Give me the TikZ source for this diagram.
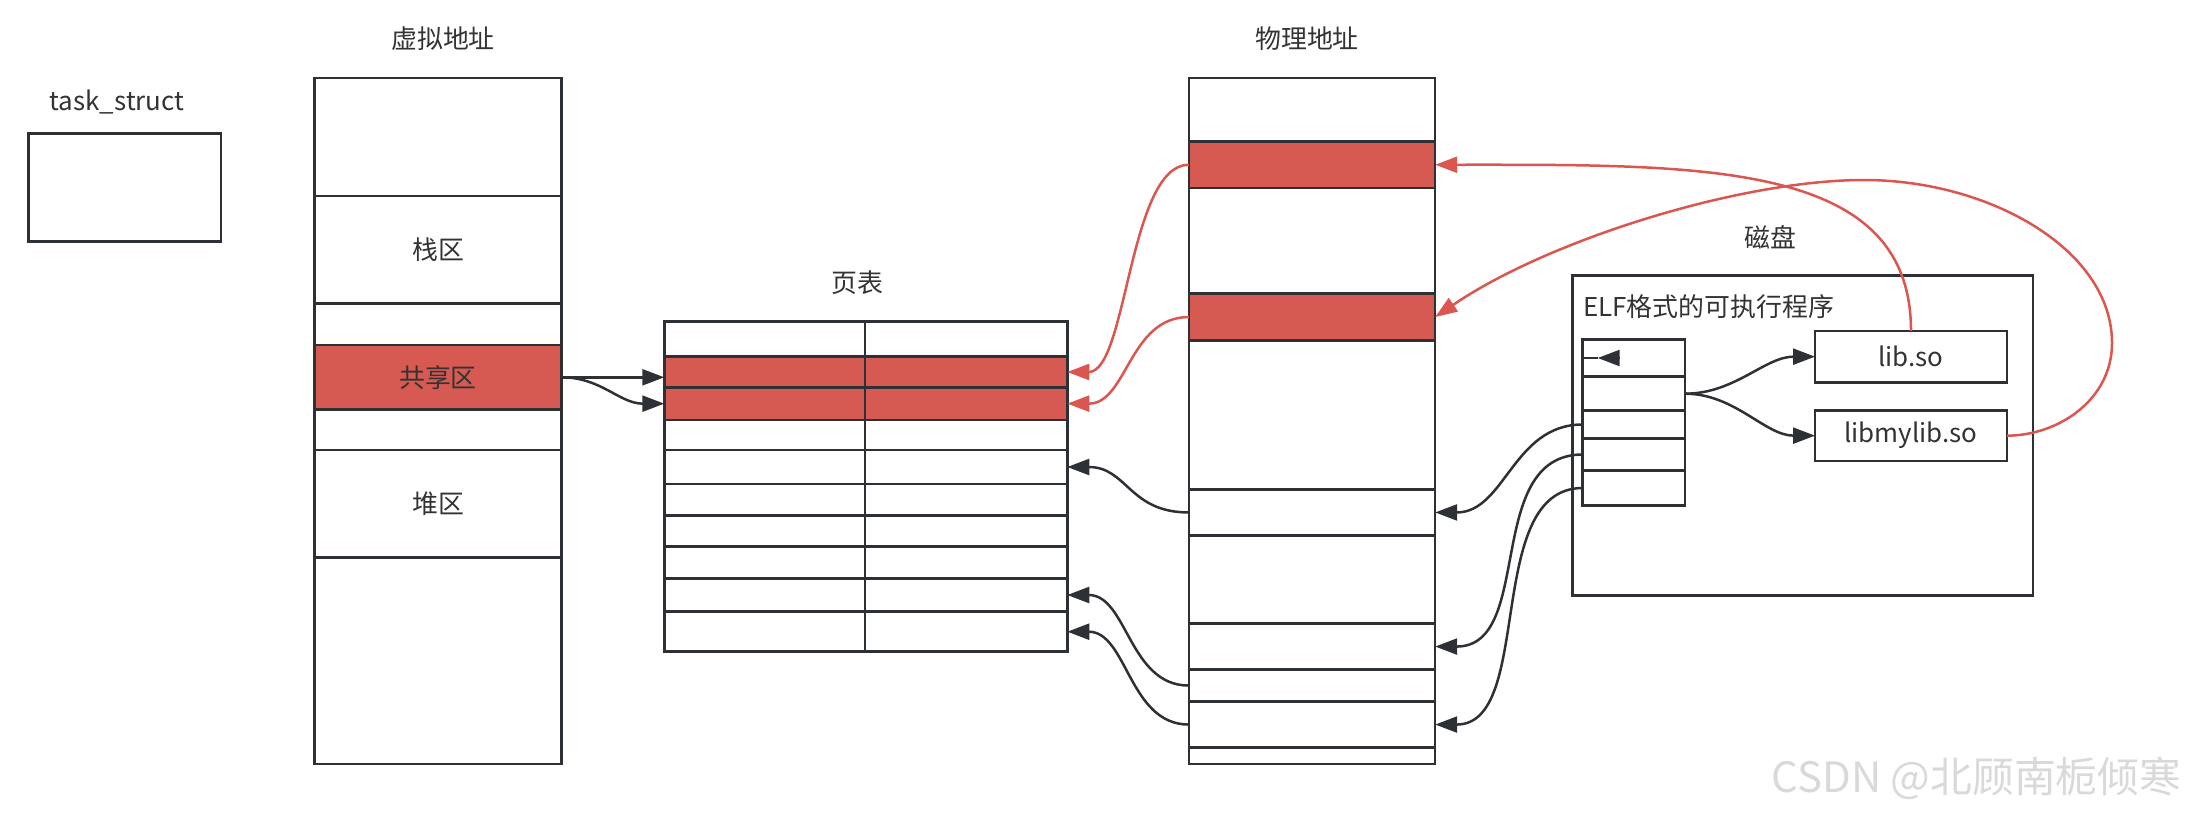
\documentclass[tikz,border=0pt]{standalone}
\usepackage{fontspec}
\setmainfont{Noto Sans CJK SC}
\usetikzlibrary{arrows.meta}
\definecolor{ink}{RGB}{45,48,52}
\definecolor{txt}{RGB}{51,51,51}
\definecolor{cred}{RGB}{214,90,81}
\definecolor{lred}{RGB}{218,86,78}

\begin{document}
\begin{tikzpicture}[x=1bp, y=-1bp, line width=2.5bp,
every node/.style={align=center, text=txt, font=\fontsize{26}{30}\selectfont},
cell/.style={draw=ink, anchor=north west, inner sep=0pt, outer sep=0pt},
lbl/.style={inner sep=0pt},
arr/.style={draw=ink, -{Triangle[length=22bp,width=16bp]}},
redarr/.style={draw=lred, -{Triangle[length=22bp,width=16bp]}}]
\useasboundingbox (0,0) rectangle (2191,815);

\node[cell, minimum width=192.3bp, minimum height=108.1bp] (task) at (28.7,133.6) {};
\node[lbl] (tasklbl) at (117,102) {task\_struct};

\foreach \t/\h/\f/\s [count=\i] in {78/118/white/{}, 196/107.5/white/栈区, 303.5/41.5/white/{},
  345/64.6/cred/共享区, 409.6/40.4/white/{}, 450/107.7/white/堆区, 557.7/206.3/white/{}}
  \node[cell, fill=\f, minimum width=246.8bp, minimum height=\h*1bp] (v\i) at (314.6,\t) {\s};
\node[lbl] (vlbl) at (443,39) {虚拟地址};

\foreach \t/\h/\f [count=\i] in {321.7/35/white, 356.7/30.6/cred, 387.3/32.7/cred, 420/30/white,
  450/34/white, 484/31.7/white, 515.7/31/white, 546.7/31.6/white, 578.3/33.4/white, 611.7/40/white} {
  \node[cell, fill=\f, minimum width=200.5bp, minimum height=\h*1bp] (ptL\i) at (664.3,\t) {};
  \node[cell, fill=\f, minimum width=202.5bp, minimum height=\h*1bp] (ptR\i) at (864.8,\t) {};
}
\node[lbl] (ptlbl) at (857,283) {页表};

\foreach \t/\h/\f [count=\i] in {78/63.4/white, 141.4/46.7/cred, 188.1/105.6/white, 293.7/46.7/cred,
  340.4/149.2/white, 489.6/45.7/white, 535.3/88.4/white, 623.7/45.7/white, 669.4/32.3/white,
  701.7/45.7/white, 747.4/16.6/white}
  \node[cell, fill=\f, minimum width=246.4bp, minimum height=\h*1bp] (p\i) at (1188.8,\t) {};
\node[lbl] (plbl) at (1307,39) {物理地址};

\node[lbl] (disklbl) at (1770,237) {磁盘};
\node[cell, minimum width=460.7bp, minimum height=320bp] (elf) at (1572.5,275.7) {};
\node[lbl, anchor=west] (elflbl) at (1582,307) {ELF格式的可执行程序};
\foreach \t/\h [count=\i] in {339.3/37.4, 376.7/34, 410.7/27.6, 438.3/32.4, 470.7/34.6}
  \node[cell, minimum width=102.3bp, minimum height=\h*1bp] (s\i) at (1582.7,\t) {};
\node[cell, minimum width=192bp, minimum height=51.3bp] (libso) at (1815,331) {lib.so};
\node[cell, minimum width=192bp, minimum height=50.7bp] (mylib) at (1815,410.3) {libmylib.so};

\node[anchor=east, text=gray!30, font=\fontsize{42}{42}\selectfont] (wm) at (2186,778) {CSDN @北顾南栀倾寒};

\coordinate (stub) at ([xshift=37bp]s1.west);
\coordinate (tip) at ([xshift=15bp]s1.west);
\coordinate (bendR) at (2112,343);
\coordinate (bendT) at (1864,180);

\draw[arr] (v4.east) -- (v4.east -| ptL2.west);
\draw[arr] (v4.east) .. controls +(40,0) and +(-45,0) .. (ptL3.west);
\draw[redarr] (p2.west) .. controls +(-60,0) and +(60,0) .. (ptR2.east);
\draw[redarr] (p4.west) .. controls +(-60,0) and +(60,0) .. (ptR3.east);
\draw[arr] (p6.west) .. controls +(-60,0) and +(60,0) .. (ptR5.east);
\draw[arr] (p9.west) .. controls +(-60,0) and +(60,0) .. (ptR9.east);
\draw[arr] (p10.west) .. controls +(-60,0) and +(60,0) .. (ptR10.east);
\draw[arr] (s3.west) .. controls +(-70,0) and +(70,0) .. (p6.east);
\draw[arr] (s4.west) .. controls +(-100,0) and +(100,0) .. (p8.east);
\draw[arr] (s5.west) .. controls +(-100,0) and +(100,0) .. (p10.east);
\draw[arr] (s2.east) .. controls +(50,0) and +(-50,0) .. (libso.west);
\draw[arr] (s2.east) .. controls +(50,0) and +(-50,0) .. (mylib.west);
\draw[draw=ink] (s1.west) -- (tip);
\draw[arr] (stub) -- (tip);
\draw[redarr] (libso.north) .. controls +(0,-170) and +(270,0) .. (p2.east);
\draw[redarr] (mylib.east) .. controls +(51,0) and +(0,57) .. (bendR)
  .. controls +(0,-93) and +(126,0) .. (bendT)
  .. controls +(-124,0) and +(113,-77) .. (p4.east);
\end{tikzpicture}
\end{document}
